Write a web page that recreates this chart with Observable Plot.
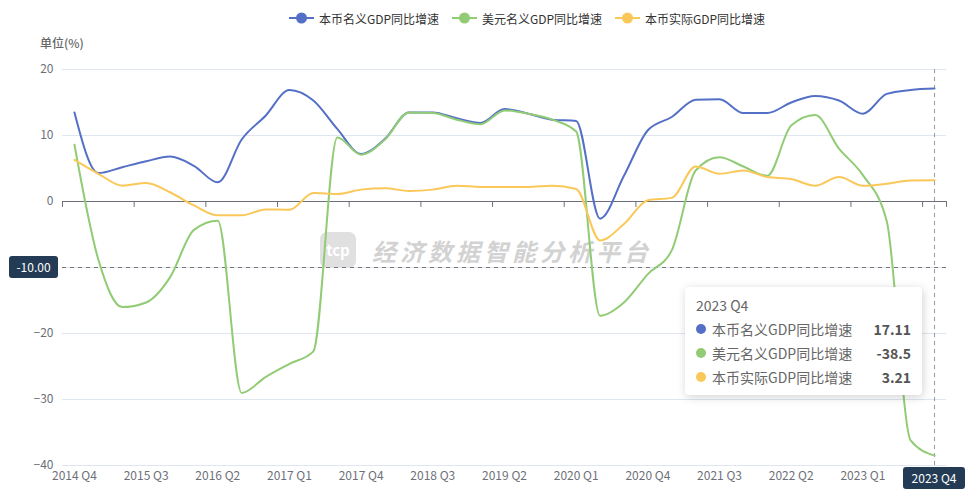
<!DOCTYPE html>
<html><head><meta charset="utf-8">
<script src="https://cdn.jsdelivr.net/npm/d3@7"></script>
<script src="https://cdn.jsdelivr.net/npm/@observablehq/plot@0.6"></script>
<style>
body{margin:0;background:#fff;font-family:"Noto Sans CJK SC","Noto Sans",sans-serif;}
#wrap{position:relative;width:979px;height:503px;overflow:hidden;background:#fff;}
#wrap svg{position:absolute;left:0;top:0;}
.abs{position:absolute;white-space:nowrap;}
.leg{display:flex;align-items:center;font-size:12px;color:#333;height:14px;}
.leg svg{position:static !important;margin-right:5px;}
.ptr{background:#243b55;color:#fff;font-size:12px;height:22px;line-height:22px;text-align:center;border-radius:3px;}
#tip{left:685px;top:287px;width:237px;height:108px;box-sizing:border-box;background:#fff;border-radius:4px;box-shadow:1px 2px 10px rgba(0,0,0,0.18);padding:8px 11px 0 11px;color:#666;font-size:14px;}
#tip .t{line-height:20px;height:20px;margin-bottom:2px;}
#tip .r{display:flex;align-items:center;line-height:24px;height:24px;}
#tip .d{width:10px;height:10px;border-radius:5px;margin-right:6px;}
#tip .n{flex:1;}
#tip .v{font-weight:bold;color:#555;}
#wm{left:320px;top:232px;display:flex;align-items:center;}
#wm .logo{width:36px;height:36px;border-radius:7px;background:#d9d9d9;color:#fff;font-size:15px;font-weight:bold;line-height:36px;text-align:center;margin-right:16px;opacity:.8;}
#wm .txt{font-size:24px;font-weight:bold;font-style:italic;color:#d2d2d2;letter-spacing:4px;}
</style></head><body><div id="wrap"></div>
<script>
const quarters = ["2014 Q4","2015 Q1","2015 Q2","2015 Q3","2015 Q4","2016 Q1","2016 Q2","2016 Q3","2016 Q4","2017 Q1","2017 Q2","2017 Q3","2017 Q4","2018 Q1","2018 Q2","2018 Q3","2018 Q4","2019 Q1","2019 Q2","2019 Q3","2019 Q4","2020 Q1","2020 Q2","2020 Q3","2020 Q4","2021 Q1","2021 Q2","2021 Q3","2021 Q4","2022 Q1","2022 Q2","2022 Q3","2022 Q4","2023 Q1","2023 Q2","2023 Q3","2023 Q4"];
const xTickLabels = ["2014 Q4","2015 Q3","2016 Q2","2017 Q1","2017 Q4","2018 Q3","2019 Q2","2020 Q1","2020 Q4","2021 Q3","2022 Q2","2023 Q1","2023 Q4"];
const yTicks = [20,10,0,-10,-20,-30,-40];
const seriesNames = ["本币名义GDP同比增速","美元名义GDP同比增速","本币实际GDP同比增速"];
const seriesColors = ["#5470c6","#91cc75","#fac858"];
const nominalLocal = [13.5,4.3,5.2,6.1,6.8,5.4,2.9,9.4,13.0,16.9,15.3,11.0,7.2,9.5,13.5,13.5,12.6,11.9,14.0,13.3,12.4,12.2,-2.6,3.9,10.8,12.8,15.4,15.5,13.4,13.4,15.0,16.0,15.3,13.3,16.3,16.9,17.11];
const nominalUSD = [8.6,-8.8,-16.0,-15.3,-11.5,-4.3,-2.9,-29.0,-26.6,-24.6,-22.7,9.7,7.1,9.4,13.5,13.4,12.4,11.7,13.8,13.3,12.4,10.6,-17.3,-15.3,-11.0,-7.4,4.7,6.7,5.3,3.9,11.5,13.1,8.0,4.0,-3.0,-36.2,-38.5];
const realLocal = [6.3,4.2,2.4,2.8,1.4,-0.6,-2.1,-2.1,-1.2,-1.25,1.3,1.15,1.8,2.0,1.6,1.8,2.4,2.2,2.2,2.2,2.4,1.9,-5.9,-3.4,0.2,0.55,5.3,4.2,4.7,3.7,3.4,2.4,3.7,2.4,2.7,3.2,3.21];
const pointerValue = -10;
const pointerQuarter = "2023 Q4";
const unitLabel = "单位(%)";
const watermark = "经济数据智能分析平台";

const allSeries = [nominalLocal, nominalUSD, realLocal];
const rows = [];
allSeries.forEach((vals, s) => vals.forEach((v, i) => rows.push({i, q: quarters[i], series: seriesNames[s], v})));
const tickIdx = xTickLabels.map(l => quarters.indexOf(l));
const boundaries = [];
for (let k = 0; k < tickIdx.length; k++) boundaries.push(tickIdx[k] - 0.5);
boundaries.push(quarters.length - 0.5);
const pIdx = quarters.indexOf(pointerQuarter);

const font = '"Noto Sans CJK SC","Noto Sans",sans-serif';
const plot = Plot.plot({
  width: 979, height: 503,
  marginLeft: 62, marginRight: 33, marginTop: 69, marginBottom: 38,
  style: {fontFamily: font, fontSize: "12px", color: "#6e7079", background: "transparent"},
  x: {type: "linear", domain: [-0.5, quarters.length - 0.5]},
  y: {domain: [-40, 20]},
  color: {domain: seriesNames, range: seriesColors},
  marks: [
    Plot.gridY(yTicks.filter(t => t !== 0), {stroke: "#e0e6f1", strokeOpacity: 1}),
    // the tick label under the pointer's value box is hidden by that box, as in the reference
    Plot.axisY({ticks: yTicks.filter(t => t !== pointerValue), tickSize: 0, tickPadding: 9, label: null, fill: "#6e7079"}),
    Plot.axisX({ticks: tickIdx.filter(i => i !== pIdx), tickFormat: i => quarters[i], tickSize: 0, tickPadding: 6, label: null, fill: "#6e7079"}),
    Plot.ruleY([0], {stroke: "#6e7079"}),
    Plot.vector(boundaries, {x: d => d, y: () => 0, length: 5, rotate: 180, anchor: "start", stroke: "#6e7079", strokeWidth: 1,
      shape: {draw(ctx, l) { ctx.moveTo(0, 0); ctx.lineTo(0, -l); }}}),
    Plot.ruleY([pointerValue], {stroke: "#777", strokeDasharray: "4,4", strokeWidth: 1}),
    Plot.ruleX([pIdx], {stroke: "#999", strokeDasharray: "4,4", strokeWidth: 1}),
    Plot.line(rows, {x: "i", y: "v", z: "series", stroke: "series", strokeWidth: 2, curve: "monotone-x"})
  ]
});

const wrap = document.getElementById("wrap");
const wm = document.createElement("div");
wm.className = "abs"; wm.id = "wm";
wm.innerHTML = `<div class="logo">tcp</div><div class="txt">${watermark}</div>`;
wrap.appendChild(wm);
wrap.appendChild(plot);

const xs = plot.scale("x"), ys = plot.scale("y");

const legLefts = [289, 452, 615];
seriesNames.forEach((n, s) => {
  const d = document.createElement("div");
  d.className = "abs leg";
  d.style.left = legLefts[s] + "px"; d.style.top = "11px";
  d.innerHTML = `<svg width="25" height="14"><line x1="0" y1="7" x2="25" y2="7" stroke="${seriesColors[s]}" stroke-width="2"/><circle cx="12.5" cy="7" r="5.5" fill="${seriesColors[s]}"/></svg><span>${n}</span>`;
  wrap.appendChild(d);
});

const u = document.createElement("div");
u.className = "abs"; u.textContent = unitLabel;
u.style.cssText += "left:40px;top:34px;font-size:12px;color:#666;font-weight:500;";
wrap.appendChild(u);

const yl = document.createElement("div");
yl.className = "abs ptr"; yl.textContent = pointerValue.toFixed(2);
yl.style.left = "9px"; yl.style.width = "49px"; yl.style.top = (ys.apply(pointerValue) - 11) + "px";
wrap.appendChild(yl);
const xl = document.createElement("div");
xl.className = "abs ptr"; xl.textContent = pointerQuarter;
xl.style.width = "62px"; xl.style.left = (xs.apply(pIdx) - 31) + "px"; xl.style.top = "467px";
wrap.appendChild(xl);

const tip = document.createElement("div");
tip.className = "abs"; tip.id = "tip";
let h = `<div class="t">${pointerQuarter}</div>`;
seriesNames.forEach((n, s) => {
  h += `<div class="r"><span class="d" style="background:${seriesColors[s]}"></span><span class="n">${n}</span><span class="v">${allSeries[s][pIdx]}</span></div>`;
});
tip.innerHTML = h;
wrap.appendChild(tip);
</script></body></html>
